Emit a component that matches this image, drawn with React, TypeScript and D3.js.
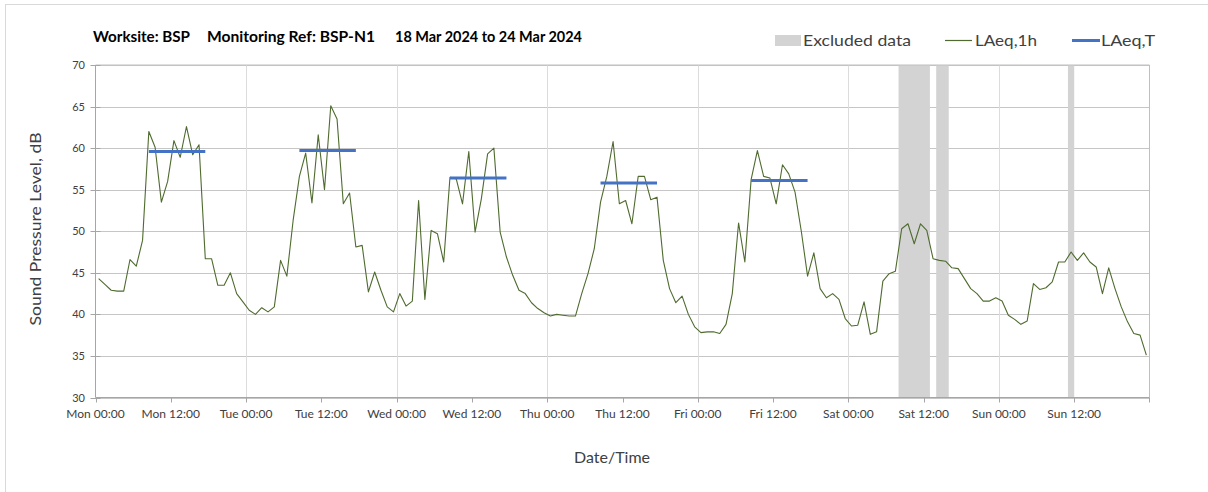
import React from "react";
import * as d3 from "d3";

// Hourly LAeq,1h values (dB) from Mon 18 Mar 2024 00:00, 168 hours
const laeq1h: number[] = [
  // Mon
  44.3, 43.6, 42.9, 42.8, 42.8, 46.6, 45.8, 48.9, 62.0, 60.1, 53.5, 56.0,
  60.9, 58.9, 62.6, 59.2, 60.4, 46.7, 46.7, 43.5, 43.5, 45.0, 42.5, 41.5,
  // Tue
  40.5, 40.0, 40.8, 40.3, 40.9, 46.5, 44.6, 51.3, 56.6, 59.4, 53.4, 61.6,
  55.0, 65.1, 63.5, 53.3, 54.6, 48.1, 48.3, 42.7, 45.1, 42.9, 40.9, 40.3,
  // Wed
  42.5, 41.0, 41.6, 53.7, 41.8, 50.1, 49.7, 46.3, 56.5, 56.3, 53.3, 59.6,
  49.9, 53.9, 59.3, 60.0, 49.9, 46.9, 44.7, 42.9, 42.5, 41.4, 40.7, 40.2,
  // Thu
  39.8, 40.0, 39.9, 39.8, 39.8, 42.5, 44.9, 47.9, 53.5, 56.6, 60.8, 53.3,
  53.7, 50.9, 56.6, 56.6, 53.8, 54.1, 46.5, 43.1, 41.4, 42.2, 40.0, 38.5,
  // Fri
  37.8, 37.9, 37.9, 37.7, 38.8, 42.5, 51.0, 46.3, 56.2, 59.7, 56.6, 56.4,
  53.3, 58.0, 56.9, 54.7, 50.0, 44.6, 47.4, 43.1, 42.0, 42.5, 41.8, 39.5,
  // Sat
  38.6, 38.7, 41.5, 37.6, 37.9, 44.0, 44.9, 45.2, 50.3, 50.9, 48.5, 50.9,
  50.1, 46.7, 46.5, 46.4, 45.6, 45.5, 44.3, 43.1, 42.5, 41.6, 41.6, 42.0,
  // Sun
  41.6, 39.9, 39.4, 38.8, 39.2, 43.7, 43.0, 43.2, 43.9, 46.3, 46.3, 47.5,
  46.5, 47.4, 46.3, 45.7, 42.5, 45.6, 43.1, 40.9, 39.1, 37.7, 37.5, 35.1,
];

// Daytime LAeq,T per weekday (Mon..Fri), period 08:00-18:00
const leqDays: number[] = [0, 1, 2, 3, 4];
const leqT: number[] = [59.6, 59.7, 56.4, 55.8, 56.1];
const dayStartHour = 8;
const dayEndHour = 18;

// Excluded data periods (hours from start)
const excludedStart: number[] = [128, 134, 155];
const excludedEnd: number[] = [133, 136, 156];

const dayNames: string[] = ["Mon", "Tue", "Wed", "Thu", "Fri", "Sat", "Sun"];
const yTicks: number[] = [30, 35, 40, 45, 50, 55, 60, 65, 70];
const xTickHours: number[] = d3.range(0, 168, 12);

const FONT = "Lato, 'Open Sans', sans-serif";

export default function App() {
  const left = 95.5, right = 1149.5, top = 65, bottom = 397.5;
  const x = d3.scaleLinear().domain([0, 168]).range([left, right]);
  const y = d3.scaleLinear().domain([30, 70]).range([bottom, top]);

  const line = d3
    .line<number>()
    .x((_, i) => x(i + 0.5))
    .y((d) => y(d));

  const tickLabel = (h: number) =>
    `${dayNames[Math.floor(h / 24)]} ${String(h % 24).padStart(2, "0")}:00`;

  return (
    <div style={{ position: "absolute", left: 0, top: 0 }}>
      <svg width={1208} height={492} style={{ display: "block" }}>
        <rect x={0} y={0} width={1208} height={492} fill="#ffffff" />
        <rect x={5.5} y={4.5} width={1220} height={500} fill="none" stroke="#d9d9d9" />

        {/* Title */}
        <g fontFamily={FONT} fontWeight="bold" fontSize={15} fill="#000">
          <text x={93} y={42} textLength={97} lengthAdjust="spacingAndGlyphs">Worksite: BSP</text>
          <text x={207} y={42} textLength={168} lengthAdjust="spacingAndGlyphs">Monitoring Ref: BSP-N1</text>
          <text x={395} y={42} textLength={187} lengthAdjust="spacingAndGlyphs">18 Mar 2024 to 24 Mar 2024</text>
        </g>

        {/* Legend */}
        <g fontFamily={FONT} fontSize={16} fill="#404040">
          <rect x={775} y={35} width={26} height={11} fill="#d3d3d3" />
          <text x={803} y={46} textLength={108} lengthAdjust="spacingAndGlyphs">Excluded data</text>
          <line x1={945} x2={972} y1={40.5} y2={40.5} stroke="#4f6b2f" strokeWidth={1.2} />
          <text x={975} y={46} textLength={62} lengthAdjust="spacingAndGlyphs">LAeq,1h</text>
          <line x1={1072} x2={1100} y1={40.5} y2={40.5} stroke="#4472c4" strokeWidth={3} />
          <text x={1101} y={46} textLength={54} lengthAdjust="spacingAndGlyphs">LAeq,T</text>
        </g>

        {/* Horizontal gridlines */}
        {yTicks.map((t) => (
          <line key={"hg" + t} x1={left} x2={right} y1={Math.round(y(t)) + 0.5} y2={Math.round(y(t)) + 0.5}
            stroke="#c6c6c6" strokeWidth={1} />
        ))}
        {/* Vertical gridlines at midnight */}
        {d3.range(1, 7).map((d) => (
          <line key={"vg" + d} x1={Math.round(x(d * 24)) + 0.5} x2={Math.round(x(d * 24)) + 0.5}
            y1={top} y2={bottom} stroke="#dcdcdc" strokeWidth={1} />
        ))}

        {/* Excluded data */}
        {excludedStart.map((s, i) => (
          <rect key={"ex" + i} x={x(s)} y={top} width={x(excludedEnd[i]) - x(s)} height={bottom - top}
            fill="#d3d3d3" />
        ))}

        {/* Plot border */}
        <line x1={left} x2={right} y1={top} y2={top} stroke="#bfbfbf" />
        <line x1={right} x2={right} y1={top} y2={bottom} stroke="#bfbfbf" />

        {/* Axes */}
        <line x1={left} x2={left} y1={top} y2={bottom} stroke="#a6a6a6" />
        {yTicks.map((t) => (
          <g key={"yt" + t}>
            <line x1={left - 5} x2={left + 5} y1={Math.round(y(t)) + 0.5} y2={Math.round(y(t)) + 0.5} stroke="#a6a6a6" />
            <text x={85} y={y(t) + 4} textAnchor="end" fontFamily={FONT} fontSize={11} fill="#404040">{t}</text>
          </g>
        ))}
        <line x1={left} x2={right} y1={bottom} y2={bottom} stroke="#a6a6a6" />
        {xTickHours.map((h) => (
          <g key={"xt" + h}>
            <line x1={Math.round(x(h)) + 0.5} x2={Math.round(x(h)) + 0.5} y1={bottom} y2={bottom + 5} stroke="#a6a6a6" />
            <text x={x(h)} y={418} textAnchor="middle" fontFamily={FONT} fontSize={12} fill="#404040">{tickLabel(h)}</text>
          </g>
        ))}
        <line x1={right} x2={right} y1={bottom} y2={bottom + 5} stroke="#a6a6a6" />

        {/* Axis titles */}
        <text transform={`translate(41,229) rotate(-90)`} textAnchor="middle" fontFamily={FONT} fontSize={16} fill="#404040"
          textLength={193} lengthAdjust="spacingAndGlyphs">
          Sound Pressure Level, dB
        </text>
        <text x={612} y={463} textAnchor="middle" fontFamily={FONT} fontSize={16} fill="#404040">Date/Time</text>

        {/* LAeq,1h line */}
        <path d={line(laeq1h) ?? ""} fill="none" stroke="#4f6b2f" strokeWidth={1.1} strokeLinejoin="round" />

        {/* LAeq,T segments */}
        {leqDays.map((d, i) => (
          <line key={"lt" + d}
            x1={x(d * 24 + dayStartHour + 0.5)} x2={x(d * 24 + dayEndHour - 0.5)}
            y1={y(leqT[i])} y2={y(leqT[i])} stroke="#4472c4" strokeWidth={3} />
        ))}
      </svg>
    </div>
  );
}
